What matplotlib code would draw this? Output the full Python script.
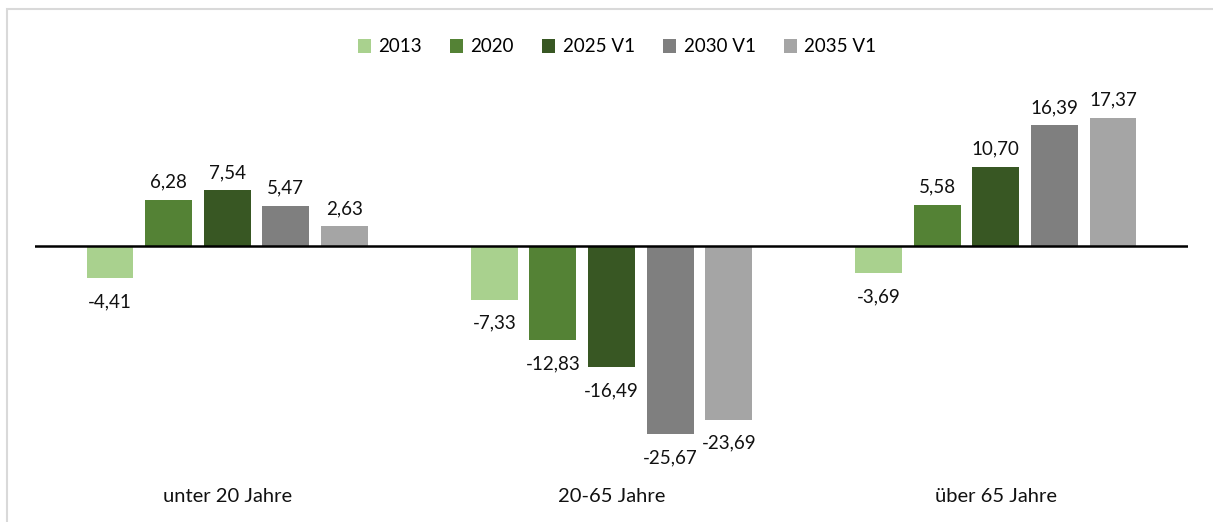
import matplotlib

matplotlib.use("Agg")
import matplotlib.pyplot as plt
import numpy as np
from matplotlib.patches import Rectangle

CATEGORIES = ["unter 20 Jahre", "20-65 Jahre", "über 65 Jahre"]
SERIES = ["2013", "2020", "2025 V1", "2030 V1", "2035 V1"]
V_2013 = [-4.41, -7.33, -3.69]
V_2020 = [6.28, -12.83, 5.58]
V_2025 = [7.54, -16.49, 10.70]
V_2030 = [5.47, -25.67, 16.39]
V_2035 = [2.63, -23.69, 17.37]
VALUES = [V_2013, V_2020, V_2025, V_2030, V_2035]
COLORS = ["#a9d18e", "#548235", "#385723", "#7f7f7f", "#a5a5a5"]

plt.rcParams["font.family"] = ["Lato", "DejaVu Sans"]

W, H = 1213, 522
fig = plt.figure(figsize=(W / 100, H / 100), dpi=100)

# light grey chart frame (cropped on the right and bottom)
fig.patches.append(Rectangle((7 / W, -0.1), 1.2, 1 - 9 / H + 0.1, transform=fig.transFigure,
                             fill=False, edgecolor="#d9d9d9", lw=1.5))

ax = fig.add_axes([35 / W, 1 - 466 / H, (1188 - 35) / W, (466 - 99) / H])
ax.set_xlim(-0.5, 2.5)
ax.set_ylim(-30, 20)
ax.axis("off")

x = np.arange(len(CATEGORIES))
width = 0.122
step = 0.1525
for i, (name, vals, col) in enumerate(zip(SERIES, VALUES, COLORS)):
    pos = x + (i - 2) * step
    ax.bar(pos, vals, width, color=col, label=name, zorder=2)
    for p, v in zip(pos, vals):
        lbl = f"{v:.2f}".replace(".", ",")
        off = 13 if v >= 0 else -17
        ax.annotate(lbl, (p, v), textcoords="offset points", xytext=(0, off),
                    ha="center", va="center", fontsize=13.5, color="#111111")

ax.axhline(0, color="black", lw=1.8, zorder=3)

for xi, cat in zip(x, CATEGORIES):
    fig.text((35 + (xi + 0.5) * (1153 / 3)) / W, 1 - 497 / H, cat, ha="center", va="center",
             fontsize=14.5, color="#111111")

fig.legend(*ax.get_legend_handles_labels(), loc="center", bbox_to_anchor=(617 / W, 1 - 47 / H),
           ncol=5, frameon=False, fontsize=13.5, handlelength=0.7, handleheight=0.7,
           handletextpad=0.4, columnspacing=1.5)

fig.savefig("out.png", dpi=100)
